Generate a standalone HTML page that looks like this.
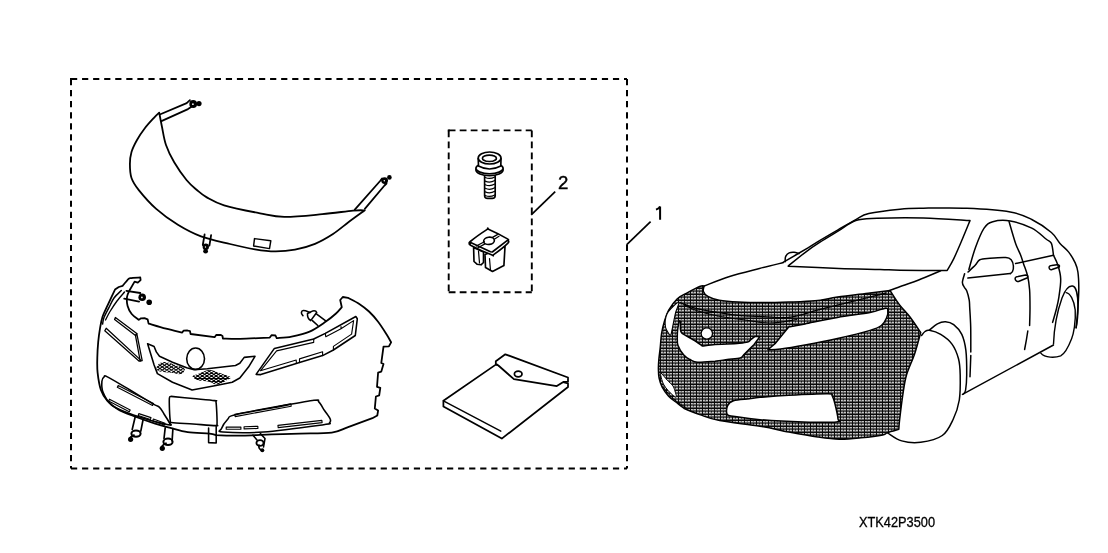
<!DOCTYPE html>
<html><head><meta charset="utf-8"><title>XTK42P3500</title>
<style>
html,body{margin:0;padding:0;background:#fff;}
body{width:1108px;height:553px;overflow:hidden;}
svg{display:block;font-family:"Liberation Sans",sans-serif;filter:grayscale(1);}
</style></head>
<body>
<svg width="1108" height="553" viewBox="0 0 1108 553">
<defs>
<pattern id="mesh" width="6" height="6" patternUnits="userSpaceOnUse" shape-rendering="crispEdges"><rect width="6" height="6" fill="#0a0a0a"/><rect x="1" y="1" width="1" height="1" fill="#c9c9c9"/><rect x="2" y="1" width="1" height="1" fill="#b4b4b4"/><rect x="3" y="1" width="1" height="1" fill="#757575"/><rect x="4" y="1" width="1" height="1" fill="#c9c9c9"/><rect x="5" y="1" width="1" height="1" fill="#bfbfbf"/><rect x="1" y="2" width="1" height="1" fill="#5f5f5f"/><rect x="2" y="2" width="1" height="1" fill="#5f5f5f"/><rect x="3" y="2" width="1" height="1" fill="#555555"/><rect x="4" y="2" width="1" height="1" fill="#5f5f5f"/><rect x="5" y="2" width="1" height="1" fill="#5f5f5f"/><rect x="1" y="3" width="1" height="1" fill="#4a4a4a"/><rect x="2" y="3" width="1" height="1" fill="#555555"/><rect x="3" y="3" width="1" height="1" fill="#1a1a1a"/><rect x="4" y="3" width="1" height="1" fill="#555555"/><rect x="5" y="3" width="1" height="1" fill="#4a4a4a"/><rect x="1" y="4" width="1" height="1" fill="#c9c9c9"/><rect x="2" y="4" width="1" height="1" fill="#b4b4b4"/><rect x="3" y="4" width="1" height="1" fill="#5f5f5f"/><rect x="4" y="4" width="1" height="1" fill="#c9c9c9"/><rect x="5" y="4" width="1" height="1" fill="#bfbfbf"/><rect x="1" y="5" width="1" height="1" fill="#5f5f5f"/><rect x="2" y="5" width="1" height="1" fill="#5f5f5f"/><rect x="3" y="5" width="1" height="1" fill="#5a5a5a"/><rect x="4" y="5" width="1" height="1" fill="#5f5f5f"/><rect x="5" y="5" width="1" height="1" fill="#5f5f5f"/></pattern>

</defs>
<rect width="1108" height="553" fill="#fff"/>
<g fill="none" stroke="#000" stroke-width="2" stroke-dasharray="6.2 4.86"><path d="M71 79L627 79"/><path d="M71 79L71 468.5"/><path d="M71 468.5L627 468.5"/><path d="M627 79L627 468.5"/><rect x="70" y="78" width="2" height="2" fill="#000" stroke="none"/></g>
<g fill="none" stroke="#000" stroke-width="1.9" stroke-dasharray="6.8 4.2"><path d="M448.7 130.4L531.8 130.4"/><path d="M448.7 130.4L448.7 292.3"/><path d="M448.7 292.3L531.8 292.3"/><path d="M531.8 130.4L531.8 292.3"/><rect x="447.75" y="129.45" width="1.9" height="1.9" fill="#000" stroke="none"/></g>
<g stroke="#000" stroke-width="1.7" fill="none">
<path d="M531.2 214.8L555.2 191.6"/>
<path d="M626.5 244.9L650.6 221.7"/>
</g>
<g font-size="18.6" fill="#000" stroke="#000" stroke-width="0.45"><text x="558" y="188.8">2</text></g><path d="M660.1 206.4V219.8M656 209.6C658 208.9 659.6 208 660.1 206.4" fill="none" stroke="#000" stroke-width="2"/>
<text x="859" y="526.5" font-size="14.2" fill="#000" stroke="#000" stroke-width="0.3" textLength="76" lengthAdjust="spacingAndGlyphs">XTK42P3500</text>
<g stroke="#000" stroke-width="1.79" fill="none" stroke-linejoin="round" stroke-linecap="round">
<path d="M159.2 112.6C158.4 113.38 156.77 114.73 154.4 117.3C152.03 119.87 147.9 124.22 145 128C142.1 131.78 139.25 136 137 140C134.75 144 132.68 148 131.5 152C130.32 156 129.9 159.67 129.9 164C129.9 168.33 130.02 173.65 131.5 178C132.98 182.35 134.68 184.95 138.8 190.1C142.92 195.25 149.68 203.12 156.2 208.9C162.72 214.68 170.43 220.22 177.9 224.8C185.37 229.38 192.32 233.2 201 236.4C209.68 239.6 221 241.85 230 244C239 246.15 247.5 248.07 255 249.3C262.5 250.53 268.33 251.35 275 251.4C281.67 251.45 288.33 250.87 295 249.6C301.67 248.33 308.67 246.4 315 243.8C321.33 241.2 327.33 237.67 333 234C338.67 230.33 343.7 225.75 349 221.8C354.3 217.85 362.17 212.22 364.8 210.3C362.83 210.35 360.08 209.95 353 210.6C345.92 211.25 333.75 213.15 322.3 214.2C310.85 215.25 294.68 217.05 284.3 216.9C273.92 216.75 270.03 215.23 260 213.3C249.97 211.37 232.97 207.95 224.1 205.3C215.23 202.65 211.33 199.95 206.8 197.4C202.27 194.85 200.28 192.9 196.9 190C193.52 187.1 190.28 184.62 186.5 180C182.72 175.38 177.62 168.13 174.2 162.3C170.78 156.47 168.03 150.88 166 145C163.97 139.12 163.13 132.4 162 127C160.87 121.6 159.67 115 159.2 112.6Z" fill="#fff"/>
<path d="M160.4 114.2L186.7 103.1L189.9 100.2"/>
<path d="M161.4 121.1L188 109.1L191.1 107"/>
<circle cx="193.2" cy="104" r="3.9" fill="#000" stroke="none"/><circle cx="192.9" cy="104.2" r="0.86" fill="#fff" stroke="none"/><circle cx="199" cy="103.6" r="2.6" fill="#000" stroke="none"/>
<path d="M354.8 209.7L380.1 181L382 178.5"/>
<path d="M364.8 208.8L384.5 185.5L386.5 183.5"/>
<circle cx="384.6" cy="180.6" r="3.4" fill="#000" stroke="none"/><circle cx="384.3" cy="180.8" r="0.75" fill="#fff" stroke="none"/><circle cx="389.4" cy="177.4" r="2.3" fill="#000" stroke="none"/>
<path d="M204.6 234.5L202.8 245"/>
<path d="M211.1 235.2L209.4 245.6"/>
<circle cx="205.8" cy="246.8" r="3.2" fill="#000" stroke="none"/><circle cx="205.5" cy="247" r="0.7" fill="#fff" stroke="none"/><circle cx="205.6" cy="251.2" r="2.4" fill="#000" stroke="none"/>
<path d="M254.5 238.6 L270.8 240.8 L269.5 248.6 L253.6 246Z" stroke-width="1.46"/>
</g>
<g stroke="#000" stroke-width="1.79" fill="none" stroke-linejoin="round" stroke-linecap="round">
<path d="M115 289.6 L118.8 287 L122.6 285.8C123.23 285.05 125.13 282.57 126.4 281.3C127.67 280.03 127.88 278.83 130.2 278.2C132.52 277.57 138.62 277.62 140.3 277.5L140.6 280.1L137.8 282.6L134.6 281.6L129.6 290.2C129.17 291.33 127.33 294.37 127 297C126.67 299.63 126.82 303.17 127.6 306C128.38 308.83 129.83 311.68 131.7 314C133.57 316.32 137.62 318.92 138.8 319.9L141 318.3L144.5 318.2L147.6 319.3L148.6 323.6C151.5 324.45 160.4 327.2 166 328.7C171.6 330.2 179.5 331.95 182.2 332.6L183.5 330.7L187.5 330.5L190 331.2L190.6 334L214.6 337.2L216.2 335L220.5 334.8L222.5 336L222.9 338.5C225.75 338.55 232.18 338.95 240 338.8C247.82 338.65 264.83 337.8 269.8 337.6L271.5 335.2L275.5 335.5L276.7 338.2C279.18 337.93 286.12 337.7 291.6 336.6C297.08 335.5 303.95 334.07 309.6 331.6C315.25 329.13 321.1 324.82 325.5 321.8C329.9 318.78 333.28 315.93 336 313.5C338.72 311.07 340.83 308.25 341.8 307.2L340.2 300L342.8 297L348 297.8C349.88 298.82 355.8 301.62 359.3 303.9C362.8 306.18 365.87 308.53 369 311.5C372.13 314.47 375.13 317.83 378.1 321.7C381.07 325.57 384.63 331.27 386.8 334.7C388.97 338.13 390.38 341.03 391.1 342.3L388.9 346.4L383.5 346.6L381.3 362.9L383.5 364L381.3 371.6L378.1 372.7L377 386.8L380.3 387.9L379.2 395.4L375.9 396.5L374.8 408.5L378.1 410.6L377.3 415.5L372.4 418.2C368.35 419.68 354.87 424.7 348.1 427.1C341.33 429.5 339.82 431.52 331.8 432.6C323.78 433.68 310.02 433.3 300 433.6C289.98 433.9 281.28 434.07 271.7 434.4C262.12 434.73 251.75 435.47 242.5 435.6C233.25 435.73 220.58 435.27 216.2 435.2C215.08 434.93 214.25 434.1 209.5 433.6C204.75 433.1 194.23 433.15 187.7 432.2C181.17 431.25 175.73 429.33 170.3 427.9C164.87 426.47 161.25 425.58 155.1 423.6C148.95 421.62 139.55 418.35 133.4 416C127.25 413.65 122.53 412.03 118.2 409.5C113.87 406.97 110.28 404.07 107.4 400.8C104.52 397.53 102.53 394.6 100.9 389.9C99.27 385.2 98.2 377.92 97.6 372.6C97 367.28 97.2 363.1 97.3 358C97.4 352.9 97.73 347.02 98.2 342C98.67 336.98 99.37 332.15 100.1 327.9C100.83 323.65 101.33 320.3 102.6 316.5C103.87 312.7 105.63 309.58 107.7 305.1C109.77 300.62 113.78 292.18 115 289.6Z" fill="#fff"/>
<path d="M121.3 290.5C120.08 291.75 116.07 295.13 114 298C111.93 300.87 110.58 304.4 108.9 307.7C107.22 311 104.95 315.07 103.9 317.8C102.85 320.53 102.82 323.05 102.6 324.1" stroke-width="1.46"/>
<path d="M124.5 292C123.25 293.5 119.42 297.75 117 301C114.58 304.25 111.92 308.33 110 311.5C108.08 314.67 106.25 318.58 105.5 320" stroke-width="1.34"/>
<path d="M115.4 317.5 L136.8 333.6 L135.5 335.6 L114.6 319.6Z" stroke-width="1.29"/>
<path d="M136.8 333.6 L142.2 360.6 L140.2 361 L135.5 335.6Z" stroke-width="1.29"/>
<path d="M106.2 328.3 L141 360.4 L139.2 361.2 L104.8 330.8Z" stroke-width="1.29"/>
<path d="M126.4 290.8L140.3 293"/>
<path d="M124.2 298.7L139.1 301.6"/>
<circle cx="142.2" cy="297.2" r="3.8" fill="#000" stroke="none"/><circle cx="141.9" cy="297.4" r="0.84" fill="#fff" stroke="none"/><circle cx="149.2" cy="302.2" r="2.8" fill="#000" stroke="none"/>
<path d="M302.9 315.7C300.5 313.5 301.3 310.6 303.3 310.5C305.5 310.4 307.5 311.5 310 312.5" stroke-width="1.57"/>
<path d="M307.5 313.5L312.9 310.9Q316 310.4 316.7 312.5L310.7 320.6Q307.2 318.8 307.5 313.5Z" stroke-width="1.57"/>
<path d="M316.7 314.1L325.4 320.6M312.4 320.6L317.8 325.5" stroke-width="1.57"/>
<path d="M147.6 343.8 L154.1 346.5 L156.3 351.9 L159.5 356.3 L172.5 362.2 L186.7 367.7 L194.2 369.8 L207.3 368.8 L235.5 365.5 L239.8 363.3 L244.2 357.4 L255 356.3 L248.5 367.1 L239.8 378 L232.2 382.3 L216 385.6 L192.1 389.9 L172.5 382.3 L157.4 373.6 L154.1 365Z" stroke-width="1.57"/>
<ellipse cx="195.6" cy="358.7" rx="8.9" ry="10.7" stroke-width="1.57"/>
<clipPath id="cmL"><path d="M156.9 366.5C157.53 365.1 159.45 362.93 161.5 362.3C163.55 361.67 166.9 362.25 169.2 362.7C171.5 363.15 172.75 364.12 175.3 365C177.85 365.88 183.22 366.67 184.5 368C185.78 369.33 183.88 371.97 183 373C182.12 374.03 180.87 374.2 179.2 374.2C177.53 374.2 175.32 373.32 173 373C170.68 372.68 167.85 372.68 165.3 372.3C162.75 371.92 159.1 371.67 157.7 370.7C156.3 369.73 156.27 367.9 156.9 366.5Z"/></clipPath><clipPath id="cmR"><path d="M193 375.7C193.9 374.93 196.68 374.3 199.1 373.4C201.52 372.5 205.07 370.75 207.5 370.3C209.93 369.85 211.4 370.18 213.7 370.7C216 371.22 218.48 372.32 221.3 373.4C224.12 374.48 229.7 376.05 230.6 377.2C231.5 378.35 228.37 379.2 226.7 380.3C225.03 381.4 222.38 383.1 220.6 383.8C218.82 384.5 217.8 384.82 216 384.5C214.2 384.18 211.85 382.47 209.8 381.9C207.75 381.33 205.73 381.37 203.7 381.1C201.67 380.83 199.27 380.82 197.6 380.3C195.93 379.78 194.47 378.77 193.7 378C192.93 377.23 192.1 376.47 193 375.7Z"/></clipPath>
<g clip-path="url(#cmL)"><path d="M129 360L154 377M129 377L154 360M133.6 360L158.6 377M133.6 377L158.6 360M138.2 360L163.2 377M138.2 377L163.2 360M142.8 360L167.8 377M142.8 377L167.8 360M147.4 360L172.4 377M147.4 377L172.4 360M152 360L177 377M152 377L177 360M156.6 360L181.6 377M156.6 377L181.6 360M161.2 360L186.2 377M161.2 377L186.2 360M165.8 360L190.8 377M165.8 377L190.8 360M170.4 360L195.4 377M170.4 377L195.4 360M175 360L200 377M175 377L200 360M179.6 360L204.6 377M179.6 377L204.6 360M184.2 360L209.2 377M184.2 377L209.2 360M188.8 360L213.8 377M188.8 377L213.8 360M193.4 360L218.4 377M193.4 377L218.4 360M198 360L223 377M198 377L223 360M202.6 360L227.6 377M202.6 377L227.6 360M207.2 360L232.2 377M207.2 377L232.2 360M211.8 360L236.8 377M211.8 377L236.8 360" stroke-width="1.01"/></g>
<g clip-path="url(#cmR)"><path d="M163.06 368L191 387M163.06 387L191 368M167.66 368L195.6 387M167.66 387L195.6 368M172.26 368L200.2 387M172.26 387L200.2 368M176.86 368L204.8 387M176.86 387L204.8 368M181.46 368L209.4 387M181.46 387L209.4 368M186.06 368L214 387M186.06 387L214 368M190.66 368L218.6 387M190.66 387L218.6 368M195.26 368L223.2 387M195.26 387L223.2 368M199.86 368L227.8 387M199.86 387L227.8 368M204.46 368L232.4 387M204.46 387L232.4 368M209.06 368L237 387M209.06 387L237 368M213.66 368L241.6 387M213.66 387L241.6 368M218.26 368L246.2 387M218.26 387L246.2 368M222.86 368L250.8 387M222.86 387L250.8 368M227.46 368L255.4 387M227.46 387L255.4 368M232.06 368L260 387M232.06 387L260 368M236.66 368L264.6 387M236.66 387L264.6 368M241.26 368L269.2 387M241.26 387L269.2 368M245.86 368L273.8 387M245.86 387L273.8 368M250.46 368L278.4 387M250.46 387L278.4 368M255.06 368L283 387M255.06 387L283 368M259.66 368L287.6 387M259.66 387L287.6 368" stroke-width="1.01"/></g>
<path d="M171 396.4C174.67 396.75 185.75 397.8 193 398.5C200.25 399.2 210.67 400.02 214.5 400.6C218.33 401.18 215.62 399.93 216 402C216.38 404.07 216.63 409.3 216.8 413C216.97 416.7 217.22 422.1 217 424.2C216.78 426.3 219.5 425.63 215.5 425.6C211.5 425.57 200.33 424.52 193 424C185.67 423.48 175.28 423 171.5 422.5C167.72 422 170.63 423.08 170.3 421C169.97 418.92 169.65 413.83 169.5 410C169.35 406.17 169.15 400.27 169.4 398C169.65 395.73 170.73 396.67 171 396.4" stroke-width="1.57"/>
<path d="M107.4 376.9C111.72 379.08 122.4 385.52 130 390C137.6 394.48 148.08 400.92 153 403.8C157.92 406.68 157.67 405.6 159.5 407.3C161.33 409 162.38 411.47 164 414C165.62 416.53 168.52 420.72 169.2 422.5C169.88 424.28 174.07 425.97 168.1 424.7C162.13 423.43 142.8 418.17 133.4 414.9C124 411.63 116.77 408.9 111.7 405.1C106.63 401.3 104.63 396.08 103 392.1C101.37 388.12 101.72 383.73 101.9 381.2C102.08 378.67 103.18 377.62 104.1 376.9C105.02 376.18 103.08 374.72 107.4 376.9Z" stroke-width="1.57"/>
<path d="M118.2 385.4 L153.5 403.6 L152.58 405.38 L117.28 387.18ZM109.5 399.2 L130.2 410 L129.27 411.77 L108.57 400.97ZM138.8 413.6 L151 417.6 L150.38 419.5 L138.18 415.5ZM153.4 419 L165 423.2 L164.32 425.08 L152.72 420.88Z" stroke-width="1.12"/>
<path d="M227.9 419C230.07 416.7 226.72 416.82 234.4 414.9C242.08 412.98 260.73 409.93 274 407.5C287.27 405.07 306.53 401.23 314 400.3C321.47 399.37 317.05 400.2 318.8 401.9C320.55 403.6 322.6 407.65 324.5 410.5C326.4 413.35 329.38 416.92 330.2 419C331.02 421.08 330.48 422.05 329.4 423C328.32 423.95 334.67 423.2 323.7 424.7C312.73 426.2 280.38 430.78 263.6 432C246.82 433.22 230.03 432.55 223 432C215.97 431.45 220.58 430.87 221.4 428.7C222.22 426.53 225.73 421.3 227.9 419Z" stroke-width="1.57"/>
<path d="M235.2 416.6 L291.2 406.2 L290.76 403.84 L234.76 414.24ZM226.2 429.3 L240.9 429.3 L240.9 427.1 L226.2 427.1ZM244.1 428.9 L257.9 428.5 L257.84 426.3 L244.04 426.7ZM278.2 427.6 L322.1 422.6 L321.85 420.41 L277.95 425.41Z" stroke-width="1.12"/>
<path d="M274.4 348.4 L313.7 339 L325.3 333.4 L355.8 316.5 L357.3 318.8 L355.3 335.5 L333.4 350 L322.6 355.6 L299.5 362.6 L260.8 374.6 L256.1 374.4Z" stroke-width="1.57"/>
<path d="M276.6 350.9L313.7 342.4L313.7 339M325.3 333.4L325.8 336.8L341 328.8L353.6 320.6L351.6 334.1L333.4 346.4L333.4 350M322.6 355.6L322.6 351.8L299.5 358.9L299.5 362.6M296.4 363.5L296.2 360L260.4 370.8L276.6 350.9M341 326.5L341 328.8" stroke-width="1.12"/>
<path d="M135.1 417.3L132.2 429.5" stroke-width="1.68"/><path d="M143.2 419L140.8 431.2" stroke-width="1.68"/><ellipse cx="136" cy="433.6" rx="4.6" ry="3.2" stroke-width="2.02"/><path d="M134 435.1Q128.6 437.3 130.6 439.3" stroke-width="1.79"/><circle cx="130.6" cy="439.3" r="2.6" fill="#000" stroke="none"/>
<path d="M165.2 427.9L164 438.5" stroke-width="1.68"/><path d="M172.9 428.7L172.1 440.9" stroke-width="1.68"/><ellipse cx="168" cy="441.8" rx="4.6" ry="3.2" stroke-width="2.02"/><path d="M166 443.3Q160.3 446.3 162.3 448.3" stroke-width="1.79"/><circle cx="162.3" cy="448.3" r="2.6" fill="#000" stroke="none"/>
<path d="M253 435.2L257 440M260.4 433.6L265 438.5L263.5 447" stroke-width="1.57"/>
<ellipse cx="260" cy="443" rx="3.6" ry="2.8" stroke-width="1.79"/>
<path d="M259 445Q258 449 262.3 450.5" stroke-width="1.57"/>
<circle cx="262.3" cy="450.3" r="2" fill="#000" stroke="none"/>
<path d="M208.6 428L208.6 442.6L216.2 443L216.2 426.5" stroke-width="1.57"/>
</g>
<g stroke="#000" stroke-width="1.65" fill="#fff" stroke-linejoin="round" stroke-linecap="round">
<rect x="484.6" y="172" width="10.6" height="26.4" rx="3" />
<path d="M485.2 177.5Q490 179.7 494.8 176.9M485.2 181.1Q490 183.3 494.8 180.5M485.2 184.7Q490 186.9 494.8 184.1M485.2 188.3Q490 190.5 494.8 187.7M485.2 191.9Q490 194.1 494.8 191.3M485.2 195.5Q490 197.7 494.8 194.9" stroke-width="1.21"/>
<ellipse cx="489.5" cy="170" rx="13.6" ry="5.6"/>
<ellipse cx="489.5" cy="168.3" rx="13.6" ry="5.4"/>
<path d="M478.2 158.5L478.5 166Q489.5 172 500.8 166L501 158.5" fill="#fff"/>
<ellipse cx="489.6" cy="158" rx="11.4" ry="6" />
<ellipse cx="489.4" cy="158.3" rx="7" ry="3.2" />
<path d="M482.6 159.4Q489.4 163.5 496.2 159.4" stroke-width="1.21"/>
</g>
<g stroke="#000" stroke-width="1.65" fill="#fff" stroke-linejoin="round" stroke-linecap="round">
<path d="M473.6 247.5 L474 261.5 L477 264.2 L481 264.8 L483.5 262.5 L483.5 252Z"/>
<path d="M485 254.5 L485.5 267.5 L492.5 271.5 L503.9 265.6 L505 246.6Z"/>
<path d="M489.5 258.5L490.5 270.5" stroke-width="1.21"/>
<path d="M478.5 251L479.5 263" stroke-width="1.21"/>
<path d="M470.3 241.5C473.05 239.17 483.68 231.62 486.8 229.6C489.92 227.58 485.63 227.9 489 229.4C492.37 230.9 503.87 236.73 507 238.6C510.13 240.47 507.68 239.82 507.8 240.6C507.92 241.38 510 241.02 507.7 243.3C505.4 245.58 496.7 252.38 494 254.3C491.3 256.22 495.33 256.28 491.5 254.8C487.67 253.32 474.53 247.27 471 245.4C467.47 243.53 470.42 244.25 470.3 243.6C470.18 242.95 467.55 243.83 470.3 241.5Z"/>
<path d="M470.6 242.6L490.5 251.8L492.3 252L507.4 240.4"/>
<ellipse cx="489" cy="240.8" rx="5.4" ry="3.6" transform="rotate(-8 489 240.8)"/>
<path d="M476.3 246L484.4 241.7M492.5 237.4L497.4 234.6M477.9 247.7L485 243.9M494.7 239L499 236.3" stroke-width="1.21"/>
</g>
<g stroke="#000" stroke-width="1.76" fill="#fff" stroke-linejoin="round" stroke-linecap="round">
<path d="M443.4 400.7 L495.8 364.6 L568 383.5 L568 387 L501.8 438.6 L443.4 406.4Z"/>
<path d="M443.4 400.9L500.8 431.2" stroke-width="1.43"/>
<path d="M495.8 361.2 L505.3 354.3 L568 377.5 L568 381.8 L563.7 381.8 L556.8 386.1 L513.9 379.2 L498.4 365.5 L495.8 363.7Z"/>
<ellipse cx="518.2" cy="374" rx="3.8" ry="2.8"/>
</g>
<g stroke="#000" stroke-width="1.5" fill="none" stroke-linejoin="round" stroke-linecap="round">
<path d="M684.9 408.9C683.68 407.98 680.32 405.52 677.6 403.4C674.88 401.28 671.17 398.92 668.6 396.2C666.03 393.48 663.78 390.12 662.2 387.1C660.62 384.08 659.73 381.12 659.1 378.1C658.47 375.08 658.45 372.02 658.4 369C658.35 365.98 658.5 363.53 658.8 360C659.1 356.47 659.73 352.23 660.2 347.8C660.67 343.37 660.92 337.73 661.6 333.4C662.28 329.07 663.12 325.67 664.3 321.8C665.48 317.93 666.53 314.05 668.7 310.2C670.87 306.35 674.15 301.63 677.3 298.7C680.45 295.77 683.77 294.67 687.6 292.6C691.43 290.53 697.55 287.4 700.3 286.3C703.05 285.2 703.47 286.05 704.1 286C703.98 286.9 702.77 289.67 703.4 291.4C704.03 293.13 705.27 294.93 707.9 296.4C710.53 297.87 714.15 299.25 719.2 300.2C724.25 301.15 730.82 301.7 738.2 302.1C745.58 302.5 755.08 302.6 763.5 302.6C771.92 302.6 780.12 302.4 788.7 302.1C797.28 301.8 806.87 301.63 815 300.8C823.13 299.97 828.33 298.4 837.5 297.1C846.67 295.8 861.25 294.12 870 293C878.75 291.88 886.67 290.83 890 290.4C891.53 292.73 895.9 300 899.2 304.4C902.5 308.8 906.22 312.12 909.8 316.8C913.38 321.48 918.88 329.88 920.7 332.5C919.68 336.07 916.97 346.82 914.6 353.9C912.23 360.98 908.47 368.15 906.5 375C904.53 381.85 903.95 387.5 902.8 395C901.65 402.5 900.27 414.28 899.6 420C898.93 425.72 898.93 427.75 898.8 429.3C896.92 429.85 890.18 431.67 887.5 432.6C884.82 433.53 887.1 434.03 882.7 434.9C878.3 435.77 868.32 437.08 861.1 437.8C853.88 438.52 846.62 439.33 839.4 439.2C832.18 439.07 826.22 438.2 817.8 437C809.38 435.8 798.53 433.8 788.9 432C779.27 430.2 771.55 428.1 760 426.2C748.45 424.3 729.65 422.53 719.6 420.6C709.55 418.67 705.48 416.55 699.7 414.6C693.92 412.65 687.37 409.85 684.9 408.9Z" fill="url(#mesh)" stroke-width="1.5"/>
<path d="M680 302.7C682.33 303.55 688.52 306.32 694 307.8C699.48 309.28 705.53 310.33 712.9 311.6C720.27 312.87 729.77 314.57 738.2 315.4C746.63 316.23 755.08 316.27 763.5 316.6C771.92 316.93 779.08 318.63 788.7 317.4C798.32 316.17 810.37 311.92 821.2 309.2C832.03 306.48 842.87 303.8 853.7 301.1C864.53 298.4 880.78 294.35 886.2 293" stroke-width="1.3"/>
<path d="M684 305C686.33 306 692.33 309.17 698 311C703.67 312.83 710.17 314.5 718 316C725.83 317.5 736.33 318.83 745 320C753.67 321.17 761.35 323.08 770 323C778.65 322.92 792.42 320.08 796.9 319.5" stroke-width="1.2"/>
<path d="M678.8 302.3C678 301.72 672.97 306.55 671 308.5C669.03 310.45 667.97 311.95 667 314C666.03 316.05 665.43 318.55 665.2 320.8C664.97 323.05 665.17 325.63 665.6 327.5C666.03 329.37 666.97 330.72 667.8 332C668.63 333.28 669.83 335.87 670.6 335.2C671.37 334.53 671.83 330.53 672.4 328C672.97 325.47 673.43 322.67 674 320C674.57 317.33 675 314.95 675.8 312C676.6 309.05 679.6 302.88 678.8 302.3Z" fill="#fff" stroke-width="1.1"/>
<path d="M679.2 321C678.95 322.42 678.02 326.88 677.7 329.5C677.38 332.12 677.25 334.05 677.3 336.7C677.35 339.35 676.92 342.35 678 345.4C679.08 348.45 681.8 352.65 683.8 355C685.8 357.35 687.7 358.28 690 359.5C692.3 360.72 693.43 362.02 697.6 362.3C701.77 362.58 712.1 361.38 715 361.2C717.03 360.93 723 360.13 727.2 359.6C731.4 359.07 737.48 358.75 740.2 358C742.92 357.25 742.95 355.58 743.5 355.1L749.2 349.4L754.1 344.5L759.8 336.6L754.9 336.4C754.22 336.95 752.02 338.75 750.8 339.7C749.58 340.65 749.5 341.5 747.6 342.1C745.7 342.7 742.8 342.97 739.4 343.3C736 343.63 731.27 343.9 727.2 344.1C723.13 344.3 719.1 344.17 715 344.5C710.9 344.83 704.67 345.83 702.6 346.1C701.4 345.25 698.05 342.68 695.4 341C692.75 339.32 689.12 337.57 686.7 336C684.28 334.43 681.92 334.02 680.9 331.6C679.88 329.18 680.65 323.18 680.6 321.5Z" fill="#fff" stroke-width="1.5"/>
<circle cx="706.8" cy="333.5" r="5.7" fill="#fff" stroke-width="1.3"/>
<path d="M767.9 349.8 L775 343.7 L788.7 327.1C791.42 326.57 796.87 325.52 805 323.9C813.13 322.28 826.67 319.3 837.5 317.4C848.33 315.5 862.15 314 870 312.5C877.85 311 881.63 308.82 884.6 308.4C887.57 307.98 887.48 308.4 887.8 310C888.12 311.6 887.58 315.42 886.5 318C885.42 320.58 884.05 323.43 881.3 325.5C878.55 327.57 877.3 328.23 870 330.4C862.7 332.57 848.33 336.07 837.5 338.5C826.67 340.93 814.48 343.25 805 345C795.52 346.75 786.78 348.2 780.6 349C774.42 349.8 770.02 349.67 767.9 349.8Z" fill="#fff" stroke-width="1.5"/>
<path d="M727.2 414.5C725.97 412.68 726.55 407.9 727.6 405.6C728.65 403.3 729.85 401.85 733.5 400.7C737.15 399.55 745.08 399.27 749.5 398.7C753.92 398.13 753.43 397.88 760 397.3C766.57 396.72 777.58 395.8 788.9 395.2C800.22 394.6 820.68 393.58 827.9 393.7C835.12 393.82 831 394.1 832.2 395.9C833.4 397.7 834.13 400.65 835.1 404.5C836.07 408.35 837.77 416.1 838 419C838.23 421.9 842.28 421.42 836.5 421.9C830.72 422.38 816.05 422.27 803.3 421.9C790.55 421.53 771.38 420.6 760 419.7C748.62 418.8 740.47 417.37 735 416.5C729.53 415.63 728.43 416.32 727.2 414.5Z" fill="#fff" stroke-width="1.5"/>
<path d="M661 373C662.08 373.77 665.33 378.07 667.3 380.2C669.27 382.33 671.55 384.07 672.8 385.8C674.05 387.53 674.22 388.77 674.8 390.6C675.38 392.43 676.67 396.08 676.3 396.8C675.93 397.52 673.98 395.97 672.6 394.9C671.22 393.83 669.53 392.22 668 390.4C666.47 388.58 664.6 386.47 663.4 384C662.2 381.53 661.2 377.43 660.8 375.6C660.4 373.77 659.92 372.23 661 373Z" fill="#fff" stroke-width="1"/>
<path d="M664 388C665 389.25 667.67 393.08 670 395.5C672.33 397.92 675.33 400.5 678 402.5C680.67 404.5 684.67 406.67 686 407.5" stroke-width="1"/>
</g>
<g stroke="#000" stroke-width="1.5" fill="none" stroke-linejoin="round" stroke-linecap="round">
<path d="M704.1 286C708.35 284.42 720.38 279.42 729.6 276.5C738.82 273.58 750.45 270.82 759.4 268.5C768.35 266.18 779.32 263.58 783.3 262.6"/>
<path d="M783.5 262.2C787.58 259.8 801.92 251.43 808 247.8C814.08 244.17 815 243.4 820 240.4C825 237.4 832.03 233.27 838 229.8C843.97 226.33 850.67 222.3 855.8 219.6C860.93 216.9 861.43 215.33 868.8 213.6C876.17 211.87 890.9 210.1 900 209.2C909.1 208.3 912.27 208.37 923.4 208.2C934.53 208.03 952.33 207.58 966.8 208.2C981.27 208.82 999.37 210.02 1010.2 211.9C1021.03 213.78 1024.93 216.07 1031.8 219.5C1038.67 222.93 1046.7 228.52 1051.4 232.5C1056.1 236.48 1057.12 240.13 1060 243.4C1062.88 246.67 1066.17 248.85 1068.7 252.1C1071.23 255.35 1073.67 259.58 1075.2 262.9C1076.73 266.22 1077.3 267.8 1077.9 272C1078.5 276.2 1078.8 282.1 1078.8 288.1C1078.8 294.1 1078.35 301.38 1077.9 308C1077.45 314.62 1076.4 324.5 1076.1 327.8"/>
<path d="M785.2 261.8C785.27 260.93 784.93 258.08 785.6 256.6C786.27 255.12 787.8 253.63 789.2 252.9C790.6 252.17 792.35 252.08 794 252.2C795.65 252.32 798.25 253.37 799.1 253.6"/>
<path d="M788.2 266C791.17 263.63 800.7 255.77 806 251.8C811.3 247.83 814.67 245.63 820 242.2C825.33 238.77 832.03 234.82 838 231.2C843.97 227.58 849.3 222.65 855.8 220.5C862.3 218.35 865.73 218.72 877 218.3C888.27 217.88 907.9 217.62 923.4 218C938.9 218.38 962.23 220.17 970 220.6C968.73 223.67 965.1 232.67 962.4 239C959.7 245.33 956.33 253.35 953.8 258.6C951.27 263.85 948.3 268.52 947.2 270.5C939.33 270.45 911.2 270.37 900 270.2C888.8 270.03 890.18 269.78 880 269.5C869.82 269.22 854.2 269.05 838.9 268.5C823.6 267.95 796.65 266.58 788.2 266.2"/>
<path d="M889.4 290.6C891.57 289.78 897.52 287.47 902.4 285.7C907.28 283.93 912.32 282.48 918.7 280C925.08 277.52 937.03 272.33 940.7 270.8"/>
<path d="M968.9 269.4C969.98 265.78 972.87 254.57 975.4 247.7C977.93 240.83 981.2 232.53 984.1 228.2C987 223.87 988.45 222.9 992.8 221.7C997.15 220.5 1003.7 219.92 1010.2 221C1016.7 222.08 1025.83 225.2 1031.8 228.2C1037.77 231.2 1042.73 236.47 1046 239C1049.27 241.53 1050.15 240.68 1051.4 243.4C1052.65 246.12 1053.15 253.32 1053.5 255.3"/>
<path d="M1053.5 255.3L1015.6 263.6"/>
<path d="M1009.1 221.7C1010.18 225.32 1013.68 237.85 1015.6 243.4C1017.52 248.95 1019.27 251.58 1020.6 255C1021.93 258.42 1022.43 260.42 1023.6 263.9C1024.77 267.38 1026.6 271.58 1027.6 275.9C1028.6 280.22 1029.2 284.45 1029.6 289.8C1030 295.15 1030 302.03 1030 308C1030 313.97 1029.67 322.67 1029.6 325.6"/>
<path d="M1027.8 331Q1026.5 340 1024.6 349.5"/>
<path d="M968 272C969.23 270.85 973.43 267.15 975.4 265.1C977.37 263.05 977.37 260.85 979.8 259.7C982.23 258.55 985.67 258.57 990 258.2C994.33 257.83 1002.27 257.25 1005.8 257.5C1009.33 257.75 1009.93 258.28 1011.2 259.7C1012.47 261.12 1013.18 264.03 1013.4 266C1013.62 267.97 1013.03 270.23 1012.5 271.5C1011.97 272.77 1010.58 273.25 1010.2 273.6"/>
<path d="M1010.2 273.6L967.9 278.1"/>
<path d="M1015.6 280.2Q1014 277 1018 276.4L1025.5 275Q1028.5 275 1027.5 277.8L1018.5 281.5Q1016.5 282 1015.6 280.2Z"/>
<path d="M1049.5 268.8Q1048 266 1051.5 265.6L1057 264.8Q1060.2 264.6 1059.3 267L1052 269.5Q1050 270 1049.5 268.8Z"/>
<path d="M964.6 273.8C964.23 275.23 962.42 280.12 962.4 282.4C962.38 284.68 963.77 286.05 964.5 287.5C965.23 288.95 966.02 289.02 966.8 291.1C967.58 293.18 968.72 297.28 969.2 300C969.68 302.72 969.45 302.88 969.7 307.4C969.95 311.92 970.52 319.67 970.7 327.1C970.88 334.53 970.78 347.85 970.8 352"/>
<path d="M970.8 355.5L970 376.7"/>
<path d="M1053.5 255.3C1054.23 256.93 1056.7 261.15 1057.9 265.1C1059.1 269.05 1060.53 273.67 1060.7 279C1060.87 284.33 1059.65 291.97 1058.9 297.1C1058.15 302.23 1057.25 305.58 1056.2 309.8C1055.15 314.02 1053.2 320.3 1052.6 322.4"/>
<path d="M1053.5 344.1C1054 330 1057 312 1062 298C1065 290 1069 285.5 1072.5 286C1076 286.5 1078 295 1078 306C1078 315 1077.5 322 1076.1 327.8" stroke-width="1.4"/>
<path d="M1066.1 292.6C1070 293 1074 300 1075.2 309.8C1076 322 1073.5 334 1071.6 338.7C1068 348 1064 354 1060.7 355.8C1055 358 1045 358 1040.8 353.1" stroke-width="1.4"/>
<path d="M962.5 394.4L1053.5 345"/>
<path d="M929.3 330.3C930.65 329.22 934.7 325.23 937.4 323.8C940.1 322.37 942.78 321.57 945.5 321.7C948.22 321.83 950.98 322.48 953.7 324.6C956.42 326.72 959.77 330.05 961.8 334.4C963.83 338.75 965.08 343.93 965.9 350.7C966.72 357.47 966.75 368.45 966.7 375C966.65 381.55 966.13 386.83 965.6 390C965.07 393.17 963.85 393.33 963.5 394"/>
<path d="M921.5 335.5C922.08 334.83 923.7 332.37 925 331.5C926.3 330.63 926.68 329.82 929.3 330.3C931.92 330.78 936.92 332.1 940.7 334.4C944.48 336.7 949.03 340.03 952 344.1C954.97 348.17 957.13 353.65 958.5 358.8C959.87 363.95 960.07 368.13 960.2 375C960.33 381.87 960.47 392.63 959.3 400C958.13 407.37 956.03 413.28 953.2 419.2C950.37 425.12 947.72 431.65 942.3 435.5C936.88 439.35 927.47 441.4 920.7 442.3C913.93 443.2 907.23 442.48 901.7 440.9C896.17 439.32 889.87 434.15 887.5 432.8"/>
</g>
</svg>
</body></html>
